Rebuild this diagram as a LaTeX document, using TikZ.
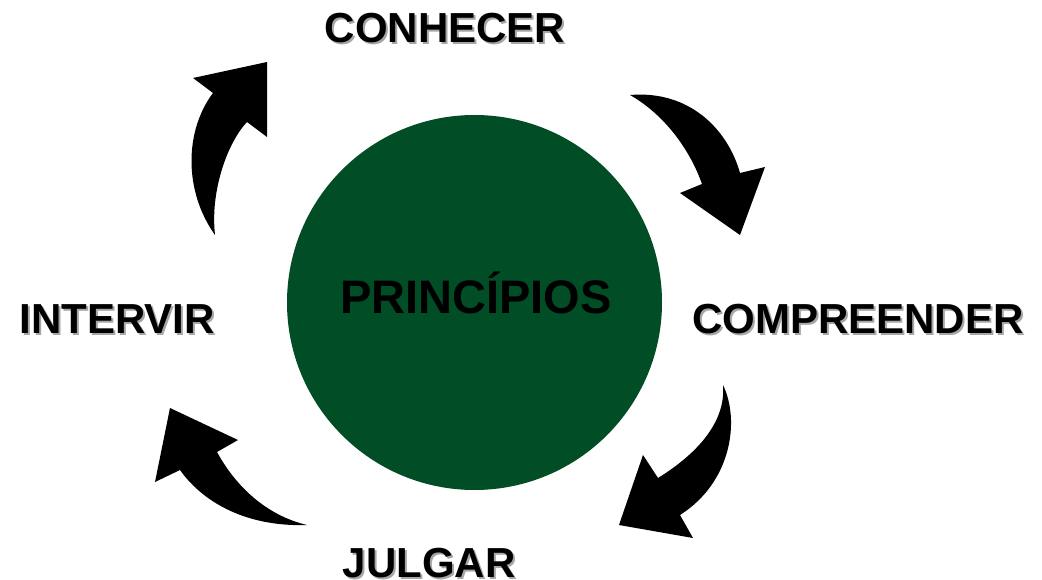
\documentclass[tikz,border=0pt]{standalone}
\usepackage{fontspec}
\setmainfont{Liberation Sans}
\definecolor{circgreen}{RGB}{0,77,38}
\tikzset{
  lbl/.style={font=\bfseries\fontsize{42}{42}\selectfont, text=black, anchor=base, inner sep=0pt},
  shadowlbl/.style={lbl, text=black!35}
}
\begin{document}
\begin{tikzpicture}[x=1pt,y=-1pt]
\useasboundingbox (0,0) rectangle (1042,580);
\fill[white] (0,0) rectangle (1042,580);
% central circle
\node[circle, fill=circgreen, minimum size=375pt, inner sep=0pt] (center) at (474.5,302.5) {};
\node[font=\bfseries\fontsize{47}{47}\selectfont, anchor=base, inner sep=0pt] (princ) at (476,313) {PRINCÍPIOS};
% labels with shadows
\node[shadowlbl] (conS) at (447,45) {CONHECER};
\node[lbl] (con) at (445,43) {CONHECER};
\node[shadowlbl] (comS) at (860,335) {COMPREENDER};
\node[lbl] (com) at (858,333) {COMPREENDER};
\node[shadowlbl] (intS) at (119,335) {INTERVIR};
\node[lbl] (int) at (117,333) {INTERVIR};
\node[shadowlbl] (julS) at (431,579) {JULGAR};
\node[lbl] (jul) at (429,577) {JULGAR};
% curved block arrows
\fill (215,235) .. controls (183,190) and (185,130) .. (213,93)
  -- (193,78) -- (267,62) -- (267,137) -- (247,122)
  .. controls (228,142) and (210,190) .. (215,235) -- cycle;
\fill (630,95) .. controls (690,90) and (728,130) .. (740,173)
  -- (765,167) -- (740,235) -- (680,193) -- (702,184)
  .. controls (690,150) and (665,115) .. (630,95) -- cycle;
\fill (723,385) .. controls (740,420) and (732,482) .. (680,515)
  -- (693,538) -- (619,525) -- (643,455) -- (658,478)
  .. controls (700,452) and (726,420) .. (723,385) -- cycle;
\fill (307,525) .. controls (250,527) and (205,505) .. (180,470)
  -- (155,482) -- (170,408) -- (238,440) -- (217,452)
  .. controls (235,485) and (265,515) .. (307,525) -- cycle;
\end{tikzpicture}
\end{document}
